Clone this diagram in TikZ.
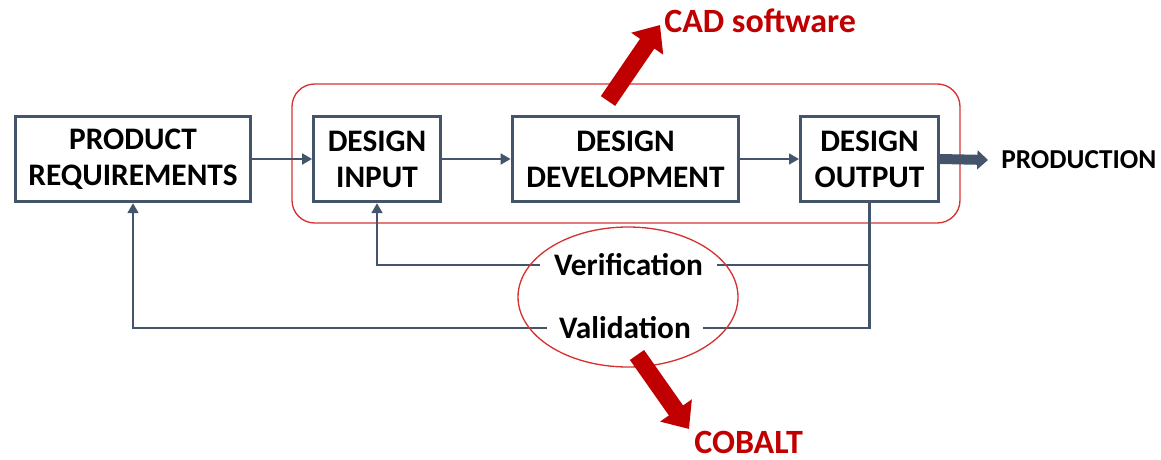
\documentclass[tikz,border=0pt]{standalone}
\usepackage{fontspec}
\setmainfont{Carlito}
\usetikzlibrary{arrows.meta,shapes.geometric}
\definecolor{slate}{RGB}{68,84,106}
\definecolor{ringred}{RGB}{214,50,50}
\definecolor{darkred}{RGB}{192,0,0}
\tikzset{
  box/.style={draw=slate, line width=2.2pt, fill=white, inner sep=0pt, minimum height=64pt,
    align=center, font=\bfseries\fontsize{23.5}{27}\selectfont},
  conn/.style={draw=slate, line width=2pt},
  arr/.style={conn, -{Triangle[length=7.5pt,width=8pt]}},
  prodarrow/.style={draw=slate, line width=7.5pt, -{Triangle[length=8pt,width=14pt]}},
  loop/.style={fill=white, inner ysep=2pt, font=\bfseries\fontsize{23.5}{26}\selectfont},
  ring/.style={draw=ringred, line width=1pt},
  bigarrow/.style={draw=darkred, line width=13pt, -{Triangle[length=17pt,width=28pt]}},
  redtext/.style={text=darkred, inner sep=0pt, font=\bfseries\fontsize{25.5}{28}\selectfont},
}
\begin{document}
\begin{tikzpicture}[x=0.75pt,y=-0.75pt]
\useasboundingbox (0,0) rectangle (1161,460);
% enclosing rounded rectangle
\draw[ring, rounded corners=17pt] (292,84) rectangle (960,223);
% boxes
\node[box, minimum width=176pt] (pr) at (133,159) {PRODUCT\\REQUIREMENTS};
\node[box, minimum width=95pt] (di) at (377,159) {DESIGN\\INPUT};
\node[box, minimum width=170pt] (dd) at (625.5,159) {DESIGN\\DEVELOPMENT};
\node[box, minimum width=103.5pt] (do) at (869.5,159) {DESIGN\\OUTPUT};
% forward connectors
\draw[arr] (pr.east) -- (di.west);
\draw[arr] (di.east) -- (dd.west);
\draw[arr] (dd.east) -- (do.west);
% production
\draw[prodarrow] (do.east) -- (988,160) coordinate (pe);
\node[anchor=west, inner sep=0pt, font=\bfseries\fontsize{20.5}{23}\selectfont] (prod) at (1001,160) {PRODUCTION};
% feedback loops
\node[loop, inner xsep=10pt] (ver) at (628.5,265) {Verification};
\node[loop, inner xsep=9pt] (val) at (625,328) {Validation};
\draw[conn] (do.south) |- (ver.east);
\draw[arr] (ver.west) -| (di.south);
\draw[conn] (do.south) |- (val.east);
\draw[arr] (val.west) -| (pr.south);
% ellipse
\node[ring, ellipse, minimum width=165pt, minimum height=105pt, inner sep=0pt] (ell) at (628,297) {};
% CAD software
\coordinate (cadstart) at (608,101);
\node[redtext, anchor=base west] (cad) at (664,33) {CAD software};
\draw[bigarrow] (cadstart) -- (660,25);
% COBALT
\coordinate (cobstart) at (637,355);
\node[redtext, anchor=base west] (cob) at (694,453) {COBALT};
\draw[bigarrow] (cobstart) -- (689,429);
\end{tikzpicture}
\end{document}
